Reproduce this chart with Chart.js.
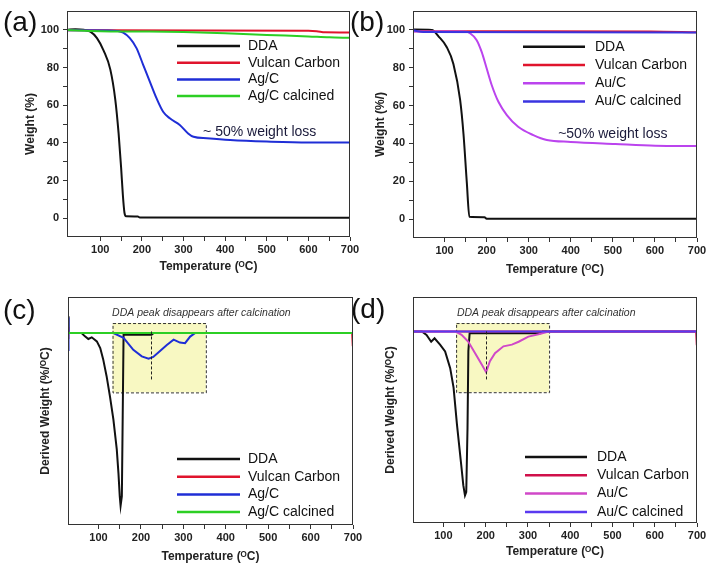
<!DOCTYPE html>
<html>
<head>
<meta charset="utf-8">
<script src="https://cdn.jsdelivr.net/npm/chart.js@4.4.1/dist/chart.umd.min.js"></script>
<style>
  body { margin: 0; background: #fff; }
  #wrap { position: relative; width: 709px; height: 569px; overflow: hidden; font-family: "Liberation Sans", Arial, sans-serif; }
  .panel { position: absolute; }
  .tag { position: absolute; font-size: 28px; line-height: 1; color: #111; }
</style>
</head>
<body>
<div id="wrap">
  <div class="panel" style="left:0;top:0;width:365px;height:285px"><canvas id="chartA"></canvas></div>
  <div class="panel" style="left:355px;top:0;width:354px;height:285px"><canvas id="chartB"></canvas></div>
  <div class="panel" style="left:0;top:285px;width:365px;height:284px"><canvas id="chartC"></canvas></div>
  <div class="panel" style="left:355px;top:285px;width:354px;height:284px"><canvas id="chartD"></canvas></div>
  <div class="tag" style="left:3px;top:8px">(a)</div>
  <div class="tag" style="left:350px;top:8px">(b)</div>
  <div class="tag" style="left:3px;top:296px">(c)</div>
  <div class="tag" style="left:351px;top:295px">(d)</div>
</div>
<script>
// (a) TGA - Ag/C
const tempDdaA = [20, 40, 60, 76, 92, 108, 124, 136, 144, 150, 154, 158, 162, 190, 195, 700];
const wtDdaA = [100, 100.3, 100, 99, 95.6, 89, 79, 63, 45, 27, 13, 3, 1, 0.9, 0.3, 0.2];
const tempVulcanA = [20, 600, 620, 640, 700];
const wtVulcanA = [99.8, 99.5, 99.3, 98.7, 98.6];
const tempAgA = [20, 120, 140, 155, 171, 187, 203, 219, 235, 251, 267, 291, 311, 324, 356, 412, 500, 600, 700];
const wtAgA = [99.8, 99.7, 99.4, 98.5, 95.6, 90.3, 81.4, 72.5, 63.7, 56.5, 53, 49.5, 45, 43.2, 42.4, 41.5, 40.7, 40.2, 40.2];
const tempAgCalA = [20, 100, 200, 300, 400, 500, 600, 650, 700];
const wtAgCalA = [99.9, 99.3, 99.1, 98.8, 98.2, 97.3, 96.5, 96.0, 95.8];

// (b) TGA - Au/C
const tempDdaB = [25, 70, 86, 105, 121, 137, 145, 153, 159, 195, 200, 700];
const wtDdaB = [100.2, 100, 96.5, 91, 82, 63, 45, 19, 1.2, 1, 0.2, 0.2];
const tempVulcanB = [25, 300, 590, 700];
const wtVulcanB = [99.3, 99.3, 99.2, 98.8];
const tempAuB = [25, 140, 152, 160, 176, 188, 200, 212, 228, 248, 275, 311, 343, 400, 506, 601, 700];
const wtAuB = [99.2, 99.1, 99, 98.3, 94.7, 88.5, 79.7, 70.9, 62, 55, 48.8, 44.4, 41.8, 40.8, 39.7, 38.8, 38.6];
const tempAuCalB = [25, 50, 700];
const wtAuCalB = [99.8, 98.9, 98.6];

// (c) DTG - Ag/C
const tempDdaC = [28, 28.5, 30, 60, 68, 76, 84, 96, 104, 111, 119, 127, 135, 143, 147, 150, 152, 155, 157, 159, 225, 230, 700];
const dwDdaC = [1.4, 0, 0, 0, -0.28, -0.5, -0.36, -0.7, -1.25, -2.2, -3.6, -5.3, -7.2, -9.7, -11.7, -13.6, -14.4, -13.6, -6.9, -0.15, -0.15, 0, 0];
const tempVulcanC = [28, 28.5, 29, 698, 699.5, 700];
const dwVulcanC = [0.5, -0.5, 0, 0, -1.1, 0];
const tempAgC = [28, 28.5, 30, 135, 159, 182, 202, 218, 229, 245, 261, 277, 292, 304, 316, 328, 700];
const dwAgC = [1.3, -1.5, 0, 0, -0.4, -1.4, -1.95, -2.15, -2.0, -1.5, -1.0, -0.55, -0.8, -0.85, -0.3, 0, 0];
const tempAgCalC = [28, 700];
const dwAgCalC = [0, 0];

// (d) DTG - Au/C
const tempDdaD = [28, 49, 60, 71, 79, 92, 104, 116, 124, 132, 142, 147, 151, 154, 157, 159, 162, 330, 335, 700];
const dwDdaD = [0, 0, -0.3, -0.9, -0.6, -1.15, -1.75, -3.2, -4.9, -8.1, -11.6, -13.4, -14.3, -14.0, -8.4, -1.7, -0.15, -0.15, 0, 0];
const tempVulcanD = [28, 698, 699.5, 700];
const dwVulcanD = [0, 0, -1.2, 0];
const tempAuD = [28, 128, 143, 159, 175, 191, 201, 210, 222, 242, 262, 278, 301, 325, 349, 700];
const dwAuD = [0, 0, -0.3, -0.9, -1.9, -2.9, -3.55, -2.6, -1.9, -1.3, -1.15, -0.9, -0.45, -0.25, 0, 0];
const tempAuCalD = [28, 700];
const dwAuCalD = [0, 0];

const xTicksMajor = [100, 200, 300, 400, 500, 600, 700];
const yTicksWeight = [0, 20, 40, 60, 80, 100];

const FONT = '"Liberation Sans", Arial, sans-serif';
const pts = (xs, ys) => xs.map((x, i) => ({ x: x, y: ys[i] }));

function deco(p) {
    return {
        id: 'deco',
        beforeDatasetsDraw(chart) {
            const { ctx, scales: { x, y } } = chart;
            (p.boxes || []).forEach(b => {
                const l = x.getPixelForValue(b.x0), r = x.getPixelForValue(b.x1);
                const t = y.getPixelForValue(b.y1), btm = y.getPixelForValue(b.y0);
                ctx.save();
                ctx.fillStyle = '#f8f8c2';
                ctx.fillRect(l, t, r - l, btm - t);
                ctx.setLineDash([3, 2]);
                ctx.strokeStyle = '#333';
                ctx.lineWidth = 1;
                ctx.strokeRect(l + 0.5, t + 0.5, r - l, btm - t);
                ctx.restore();
            });
        },
        afterDatasetsDraw(chart) {
            const { ctx, chartArea: a, scales: { x, y } } = chart;
            ctx.save();
            // dashed marker lines
            (p.vlines || []).forEach(v => {
                const px = Math.round(x.getPixelForValue(v.x)) + 0.5;
                ctx.setLineDash([3, 2]);
                ctx.strokeStyle = '#222';
                ctx.lineWidth = 1;
                ctx.beginPath();
                ctx.moveTo(px, y.getPixelForValue(v.y0));
                ctx.lineTo(px, y.getPixelForValue(v.y1));
                ctx.stroke();
            });
            ctx.setLineDash([]);
            // frame
            ctx.strokeStyle = '#333';
            ctx.lineWidth = 1;
            ctx.strokeRect(a.left + 0.5, a.top + 0.5, a.width - 1, a.height - 1);
            // legend
            const L = p.legend;
            ctx.font = '14px ' + FONT;
            ctx.textBaseline = 'middle';
            chart.data.datasets.forEach((ds, i) => {
                const yy = a.top + L.y + i * L.dy;
                const x0 = a.left + L.x;
                ctx.strokeStyle = ds.borderColor;
                ctx.lineWidth = 2.5;
                ctx.beginPath();
                ctx.moveTo(x0, yy);
                ctx.lineTo(x0 + L.len, yy);
                ctx.stroke();
                ctx.fillStyle = '#111';
                ctx.fillText(ds.label, x0 + L.len + L.gap, yy);
            });
            // notes
            (p.notes || []).forEach(n => {
                ctx.font = n.font;
                ctx.fillStyle = n.color;
                ctx.textAlign = 'left';
                ctx.fillText(n.text, x.getPixelForValue(n.x), y.getPixelForValue(n.y));
            });
            ctx.restore();
        }
    };
}

function makeChart(id, p) {
    return new Chart(document.getElementById(id), {
        type: 'line',
        data: {
            datasets: p.series.map((s, i) => ({
                label: s.label,
                data: s.data,
                borderColor: s.color,
                borderWidth: 2,
                pointRadius: 0,
                fill: false,
                tension: 0,
                cubicInterpolationMode: p.smooth ? 'monotone' : 'default',
                order: 3 - i
            }))
        },
        options: {
            responsive: true,
            maintainAspectRatio: false,
            animation: false,
            layout: { padding: { left: 0, top: p.top, right: p.right, bottom: 0 } },
            plugins: { legend: { display: false }, tooltip: { enabled: false } },
            scales: {
                x: {
                    type: 'linear',
                    min: p.xMin,
                    max: 700,
                    afterFit: s => { s.height = p.xHeight; },
                    afterBuildTicks: s => { s.ticks = s.ticks.filter(t => t.value % 50 === 0 && t.value > p.xMin); },
                    border: { display: false },
                    grid: { drawOnChartArea: false, drawTicks: true, tickLength: 4, color: '#333' },
                    ticks: {
                        stepSize: 50,
                        autoSkip: false,
                        maxRotation: 0,
                        padding: 2,
                        color: '#222',
                        font: { family: FONT, size: 11, weight: 'bold' },
                        callback: v => xTicksMajor.includes(v) ? String(v) : ''
                    },
                    title: {
                        display: true,
                        text: 'Temperature (\u1D3CC)',
                        color: '#222',
                        font: { family: FONT, size: 12, weight: 'bold' },
                        padding: { top: 0, bottom: p.xTitlePad }
                    }
                },
                y: {
                    min: p.yMin,
                    max: p.yMax,
                    afterFit: s => { s.width = p.yWidth; },
                    afterBuildTicks: s => { if (p.yTicks) s.ticks = s.ticks.filter(t => t.value >= 0 && t.value <= 100); },
                    border: { display: false },
                    grid: { display: p.yTicks, drawOnChartArea: false, drawTicks: true, tickLength: 4, color: '#333' },
                    ticks: {
                        display: p.yTicks,
                        stepSize: 10,
                        autoSkip: false,
                        padding: 4,
                        color: '#222',
                        font: { family: FONT, size: 11, weight: 'bold' },
                        callback: v => yTicksWeight.includes(v) ? String(v) : ''
                    },
                    title: {
                        display: true,
                        text: p.yTitle,
                        color: '#222',
                        font: { family: FONT, size: 12, weight: 'bold' },
                        padding: { top: p.yTitlePad, bottom: 0 }
                    }
                }
            }
        },
        plugins: [deco(p)]
    });
}

const noteFont = '14px ' + FONT;
const peakFont = 'italic 10.5px ' + FONT;
const peakNote = 'DDA peak disappears after calcination';

makeChart('chartA', {
    xMin: 20, yMin: -10, yMax: 110, yTicks: true, smooth: true,
    top: 11, right: 15, xHeight: 48, yWidth: 67, xTitlePad: 11, yTitlePad: 23,
    yTitle: 'Weight (%)',
    series: [
        { label: 'DDA', data: pts(tempDdaA, wtDdaA), color: '#111111' },
        { label: 'Vulcan Carbon', data: pts(tempVulcanA, wtVulcanA), color: '#e0142c' },
        { label: 'Ag/C', data: pts(tempAgA, wtAgA), color: '#1f2ed6' },
        { label: 'Ag/C calcined', data: pts(tempAgCalA, wtAgCalA), color: '#2ccf24' }
    ],
    legend: { x: 110, y: 35, dy: 16.7, len: 63, gap: 8 },
    notes: [{ text: '~ 50% weight loss', x: 347, y: 45.7, font: noteFont, color: '#1a1a3a' }]
});

makeChart('chartB', {
    xMin: 25, yMin: -10, yMax: 110, yTicks: true, smooth: true,
    top: 11, right: 12, xHeight: 47, yWidth: 58, xTitlePad: 8, yTitlePad: 18,
    yTitle: 'Weight (%/)',
    series: [
        { label: 'DDA', data: pts(tempDdaB, wtDdaB), color: '#111111' },
        { label: 'Vulcan Carbon', data: pts(tempVulcanB, wtVulcanB), color: '#e0142c' },
        { label: 'Au/C', data: pts(tempAuB, wtAuB), color: '#bb44ee' },
        { label: 'Au/C calcined', data: pts(tempAuCalB, wtAuCalB), color: '#3a34e0' }
    ],
    legend: { x: 110, y: 35.7, dy: 18.3, len: 62, gap: 10 },
    notes: [{ text: '~50% weight loss', x: 370, y: 45, font: noteFont, color: '#1a1a3a' }]
});

makeChart('chartC', {
    xMin: 28, yMin: -16, yMax: 3, yTicks: false, smooth: false,
    top: 12, right: 12, xHeight: 44, yWidth: 68, xTitlePad: 5, yTitlePad: 38,
    yTitle: 'Derived Weight (%/\u1D3CC)',
    series: [
        { label: 'DDA', data: pts(tempDdaC, dwDdaC), color: '#111111' },
        { label: 'Vulcan Carbon', data: pts(tempVulcanC, dwVulcanC), color: '#e0142c' },
        { label: 'Ag/C', data: pts(tempAgC, dwAgC), color: '#1f2ed6' },
        { label: 'Ag/C calcined', data: pts(tempAgCalC, dwAgCalC), color: '#2ccf24' }
    ],
    legend: { x: 109, y: 162, dy: 17.7, len: 63, gap: 8 },
    boxes: [{ x0: 133, x1: 353, y0: -4.95, y1: 0.83 }],
    vlines: [{ x: 224, y0: 0.13, y1: -4.0 }],
    notes: [{ text: peakNote, x: 132, y: 1.7, font: peakFont, color: '#333' }]
});

makeChart('chartD', {
    xMin: 28, yMin: -16.7, yMax: 3, yTicks: false, smooth: false,
    top: 12, right: 12, xHeight: 46, yWidth: 58, xTitlePad: 10, yTitlePad: 28,
    yTitle: 'Derived Weight (%/\u1D3CC)',
    series: [
        { label: 'DDA', data: pts(tempDdaD, dwDdaD), color: '#111111' },
        { label: 'Vulcan Carbon', data: pts(tempVulcanD, dwVulcanD), color: '#d0104a' },
        { label: 'Au/C', data: pts(tempAuD, dwAuD), color: '#d048c8' },
        { label: 'Au/C calcined', data: pts(tempAuCalD, dwAuCalD), color: '#5a3af0' }
    ],
    legend: { x: 112, y: 160, dy: 18.3, len: 62, gap: 10 },
    boxes: [{ x0: 130, x1: 350, y0: -5.3, y1: 0.73 }],
    vlines: [{ x: 200, y0: 0, y1: -4.3 }],
    notes: [{ text: peakNote, x: 132, y: 1.63, font: peakFont, color: '#333' }]
});
</script>
</body>
</html>
